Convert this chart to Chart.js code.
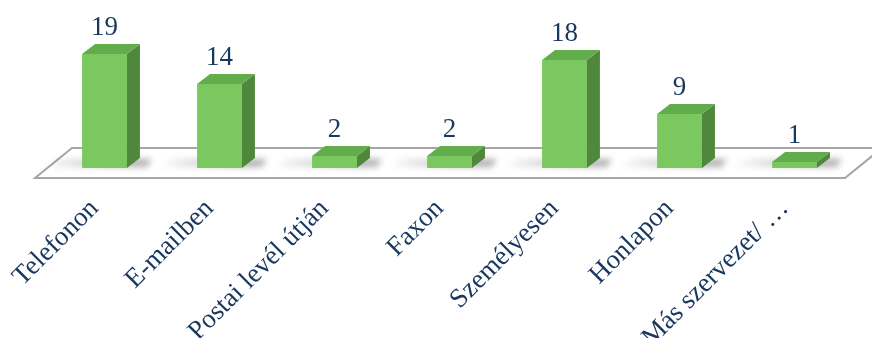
<!DOCTYPE html>
<html lang="hu">
<head>
  <meta charset="UTF-8">
  <script src="https://cdn.jsdelivr.net/npm/chart.js@4.4.1/dist/chart.umd.min.js"></script>
  <title>Kapcsolattartás módja</title>
  <style>
    html, body { margin: 0; padding: 0; background: #fff; }
    #wrap { width: 872px; height: 338px; }
  </style>
</head>
<body>
  <div id="wrap"><canvas id="chart" width="872" height="338"></canvas></div>

  <script>
    // data
    const categories = ['Telefonon', 'E-mailben', 'Postai levél útján', 'Faxon', 'Személyesen', 'Honlapon', 'Más szervezet/ …'];
    const counts = [19, 14, 2, 2, 18, 9, 1];

    const FRONT = '#7ac85f';
    const SIDE = '#4f873c';
    const TOP = '#62ad4b';
    const TEXT = '#17375e';
    const DX = 13, DY = 10;   // 3d depth offset

    // floor + shadows under the bars
    const floorPlugin = {
      id: 'floor',
      beforeDatasetsDraw(chart) {
        const ctx = chart.ctx;
        const area = chart.chartArea;
        const base = chart.scales.y.getPixelForValue(0);
        ctx.save();
        ctx.beginPath();
        ctx.moveTo(area.left - 12, base + 10);
        ctx.lineTo(area.right - 7, base + 10);
        ctx.lineTo(area.right + 30, base - 20);
        ctx.lineTo(area.left + 25, base - 20);
        ctx.closePath();
        ctx.fillStyle = '#ffffff';
        ctx.fill();
        ctx.lineWidth = 2;
        ctx.strokeStyle = '#a6a6a6';
        ctx.stroke();

        // soft shadows behind each bar
        const meta = chart.getDatasetMeta(0);
        meta.data.forEach(bar => {
          const w = bar.width;
          const x0 = bar.x - w / 2;
          const g = ctx.createLinearGradient(x0 - 40, 0, x0 + w, 0);
          g.addColorStop(0, 'rgba(0,0,0,0)');
          g.addColorStop(0.7, 'rgba(0,0,0,0.22)');
          g.addColorStop(1, 'rgba(0,0,0,0.3)');
          ctx.fillStyle = g;
          ctx.beginPath();
          ctx.moveTo(x0 - 40, base - 1);
          ctx.lineTo(x0 + w + 20, base - 1);
          ctx.lineTo(x0 + w + 25, base - 9);
          ctx.lineTo(x0 - 25, base - 9);
          ctx.closePath();
          ctx.filter = 'blur(3px)';
          ctx.fill();
          ctx.filter = 'none';
        });
        ctx.restore();
      }
    };

    // side and top faces + value labels
    const depthPlugin = {
      id: 'depth',
      afterDatasetsDraw(chart) {
        const ctx = chart.ctx;
        const meta = chart.getDatasetMeta(0);
        ctx.save();
        meta.data.forEach((bar, i) => {
          const w = bar.width;
          const x0 = bar.x - w / 2;
          const x1 = bar.x + w / 2;
          const top = bar.y;
          const base = bar.base;

          ctx.fillStyle = SIDE;
          ctx.beginPath();
          ctx.moveTo(x1, top);
          ctx.lineTo(x1 + DX, top - DY);
          ctx.lineTo(x1 + DX, base - DY);
          ctx.lineTo(x1, base);
          ctx.closePath();
          ctx.fill();

          ctx.fillStyle = TOP;
          ctx.beginPath();
          ctx.moveTo(x0, top);
          ctx.lineTo(x0 + DX, top - DY);
          ctx.lineTo(x1 + DX, top - DY);
          ctx.lineTo(x1, top);
          ctx.closePath();
          ctx.fill();

          ctx.fillStyle = TEXT;
          ctx.font = '27px "Liberation Serif", "Times New Roman", serif';
          ctx.textAlign = 'center';
          ctx.textBaseline = 'alphabetic';
          ctx.fillText(String(counts[i]), bar.x, top - 19);
        });
        ctx.restore();
      }
    };

    const ctx = document.getElementById('chart').getContext('2d');
    const myChart = new Chart(ctx, {
      type: 'bar',
      data: {
        labels: categories,
        datasets: [{
          data: counts,
          backgroundColor: FRONT,
          borderWidth: 0,
          barPercentage: 0.39,
          categoryPercentage: 1
        }]
      },
      options: {
        responsive: false,
        animation: false,
        layout: { padding: { left: 47, right: 20, top: 18, bottom: 0 } },
        plugins: {
          legend: { display: false },
          tooltip: { enabled: false }
        },
        scales: {
          x: {
            grid: { display: false, drawTicks: false },
            border: { display: false },
            afterFit(scale) {
              // bars stand at y=168, labels may run past the edges
              scale.height = 170;
              scale.paddingLeft = 0;
              scale.paddingRight = 0;
            },
            ticks: {
              minRotation: 45,
              maxRotation: 45,
              autoSkip: false,
              padding: 25,
              labelOffset: -10,
              color: TEXT,
              font: { family: '"Liberation Serif", "Times New Roman", serif', size: 27 }
            }
          },
          y: {
            display: false,
            min: 0,
            max: 25
          }
        }
      },
      plugins: [floorPlugin, depthPlugin]
    });
  </script>
</body>
</html>
